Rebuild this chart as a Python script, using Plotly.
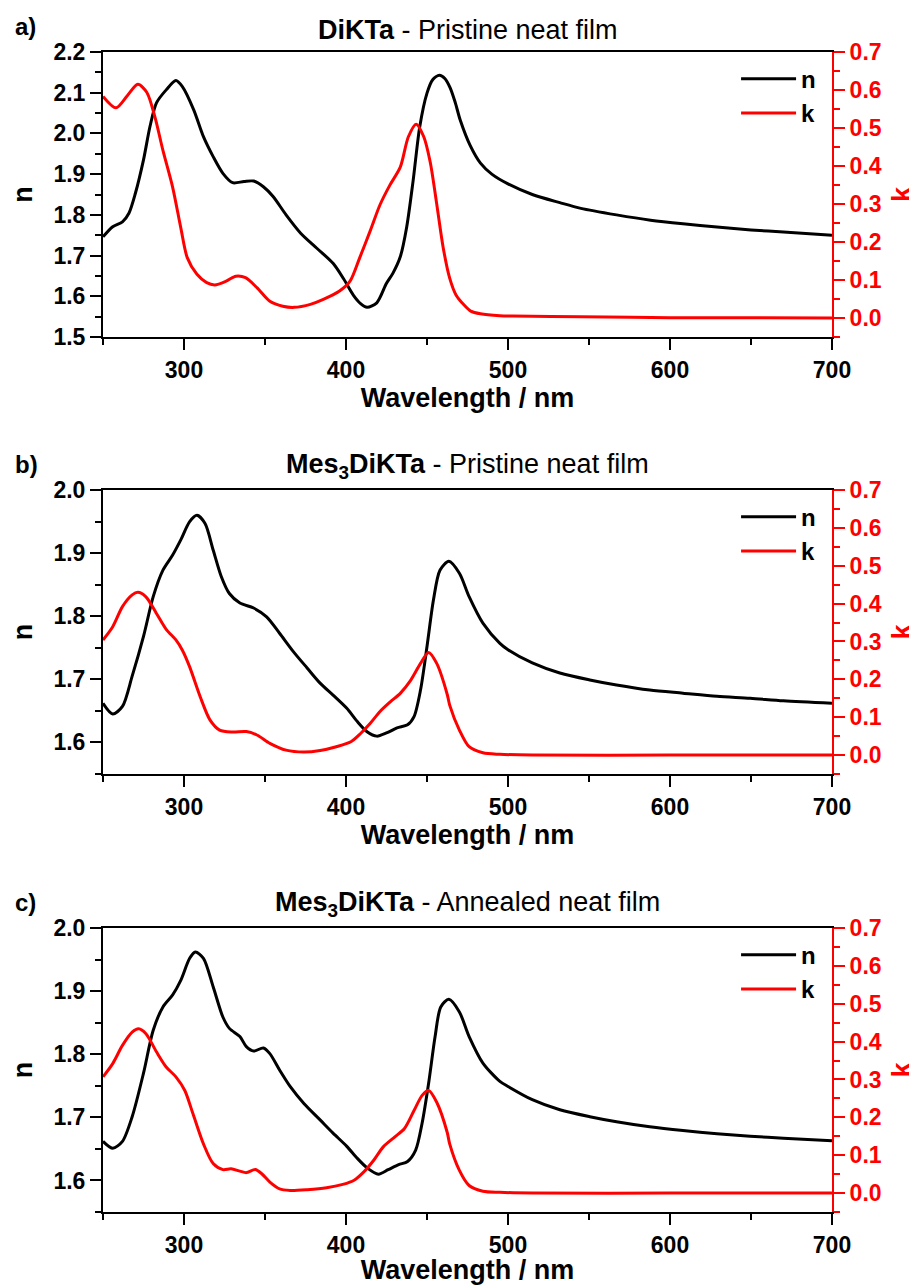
import plotly.graph_objects as go
from plotly.subplots import make_subplots

# a) DiKTa - pristine neat film
wl_a_n = [250, 256, 262, 266, 270, 275, 279, 283, 289, 295, 299, 306, 312, 318, 324, 330, 337, 343,
          349, 355, 363, 372, 382, 392, 398.5, 404.5, 409, 413, 419, 425, 429, 433.5, 437.5, 441.5,
          445.5, 450, 453.5, 457.7, 461, 464.3, 467.5, 470.5, 476.7, 483, 490, 500, 515, 532, 545, 567,
          588, 608, 629, 650, 670, 700]
n_a = [1.746, 1.771, 1.783, 1.804, 1.853, 1.935, 2.017, 2.075, 2.107, 2.130, 2.115, 2.058, 1.992, 1.943,
       1.902, 1.879, 1.882, 1.883, 1.869, 1.845, 1.800, 1.755, 1.718, 1.681, 1.643, 1.603, 1.582, 1.573,
       1.584, 1.632, 1.657, 1.697, 1.771, 1.886, 2.016, 2.099, 2.132, 2.143, 2.135, 2.112, 2.075, 2.033,
       1.970, 1.927, 1.900, 1.876, 1.850, 1.830, 1.816, 1.800, 1.787, 1.778, 1.770, 1.763, 1.758, 1.750]
wl_a_k = [250, 258, 265, 271.5, 277, 282, 287, 293, 298, 302, 308, 314, 319, 326, 332, 338,
          345, 353, 361, 368, 378, 386, 396, 402.5, 408.5, 415, 421, 427, 433.5, 438.5, 443.3, 448, 452,
          456, 460, 464, 468, 472.5, 477, 483, 495, 503, 545, 600, 700]
k_a = [0.583, 0.553, 0.585, 0.615, 0.594, 0.530, 0.441, 0.344, 0.238, 0.159, 0.115, 0.093,
       0.087, 0.097, 0.110, 0.106, 0.080, 0.044, 0.031, 0.028, 0.036, 0.049, 0.071, 0.097, 0.159, 0.230,
       0.298, 0.349, 0.397, 0.477, 0.510, 0.477, 0.410, 0.300, 0.185, 0.105, 0.060, 0.036, 0.018, 0.011,
       0.006, 0.005, 0.003, 0.001, 0.0]

# b) Mes3DiKTa - pristine neat film
wl_b_n = [250, 256, 262, 268, 275, 281, 287, 293, 298, 303.5, 308, 313, 318, 323, 328, 334.5, 343, 351,
          359, 367.5, 376, 384, 392, 400.5, 407, 413, 419, 425, 431.5, 438, 442, 446, 450, 454, 458,
          463.5, 470, 476, 484.5, 495, 500, 515, 532, 550.5, 567, 587.5, 608, 629, 649.5, 670, 700]
n_b = [1.662, 1.645, 1.657, 1.705, 1.768, 1.831, 1.873, 1.897, 1.921, 1.950, 1.960, 1.947, 1.905, 1.863,
       1.836, 1.821, 1.813, 1.799, 1.773, 1.744, 1.718, 1.694, 1.675, 1.654, 1.633, 1.617, 1.610, 1.615,
       1.623, 1.628, 1.641, 1.683, 1.752, 1.826, 1.873, 1.887, 1.868, 1.831, 1.789, 1.757, 1.747, 1.726,
       1.710, 1.699, 1.691, 1.683, 1.678, 1.673, 1.670, 1.666, 1.662]
wl_b_k = [250, 256, 262, 268, 271.5, 276.5, 283, 289, 295, 299, 303.5, 310, 316, 322, 330, 338.5, 345,
          353, 363, 374, 384, 394, 403, 409, 415, 421, 427.5, 433.5, 440, 446, 451, 456, 462.5, 464,
          470, 476, 484.5, 495, 515, 600, 700]
k_b = [0.304, 0.339, 0.392, 0.423, 0.430, 0.418, 0.374, 0.332, 0.304, 0.277, 0.233, 0.154, 0.093, 0.066,
       0.061, 0.062, 0.053, 0.031, 0.013, 0.008, 0.012, 0.022, 0.035, 0.057, 0.084, 0.115, 0.141, 0.163,
       0.198, 0.242, 0.271, 0.242, 0.160, 0.132, 0.066, 0.022, 0.006, 0.002, 0.0, 0.0, 0.0]

# c) Mes3DiKTa - annealed neat film
wl_c_n = [250, 256, 262, 268, 275, 281, 287, 293, 298, 303.5, 307, 312, 318, 324, 328, 334.5, 338.5,
          343, 349, 353, 359, 365.5, 374, 384, 392, 400.5, 407, 413, 420, 426, 432.5, 438, 443, 447,
          451, 455, 458.5, 463.5, 470, 476, 484.5, 495, 500, 515, 532, 550.5, 567, 587.5, 608, 629,
          649.5, 670, 700]
n_c = [1.662, 1.651, 1.662, 1.701, 1.770, 1.838, 1.875, 1.894, 1.917, 1.952, 1.962, 1.952, 1.907, 1.859,
       1.841, 1.828, 1.812, 1.805, 1.810, 1.801, 1.775, 1.749, 1.722, 1.696, 1.675, 1.654, 1.635, 1.620,
       1.610, 1.617, 1.625, 1.630, 1.648, 1.691, 1.754, 1.828, 1.875, 1.887, 1.867, 1.828, 1.786, 1.757,
       1.749, 1.728, 1.712, 1.701, 1.693, 1.685, 1.679, 1.674, 1.670, 1.667, 1.663]
wl_c_k = [250, 256, 262, 268, 272, 276.5, 283, 289, 295, 300.5, 305.5, 312, 318, 324, 329, 334.5, 338.5,
          344, 348, 353, 359, 365.5, 376, 388, 398, 405, 411, 417, 423, 430, 436, 442, 447, 451, 456,
          462.5, 464, 470, 476, 484.5, 495, 515, 600, 700]
k_c = [0.307, 0.342, 0.390, 0.425, 0.434, 0.421, 0.373, 0.333, 0.307, 0.271, 0.210, 0.130, 0.078, 0.062,
       0.064, 0.058, 0.054, 0.062, 0.051, 0.029, 0.011, 0.007, 0.009, 0.014, 0.023, 0.034, 0.056, 0.086,
       0.122, 0.148, 0.170, 0.218, 0.258, 0.271, 0.240, 0.160, 0.130, 0.060, 0.020, 0.005, 0.002, 0.0,
       0.0, 0.0]

titles = ["<b>DiKTa</b> - Pristine neat film",
          "<b>Mes<sub>3</sub>DiKTa</b> - Pristine neat film",
          "<b>Mes<sub>3</sub>DiKTa</b> - Annealed neat film"]
labels = ["a)", "b)", "c)"]
n_ranges = [[1.5, 2.2], [1.55, 2.0], [1.55, 2.0]]
k_range = [-0.05, 0.7]

FONT = "Arial, Liberation Sans, sans-serif"
# y domains of the three panels (paper coords)
domains = [[0.7543, 1.0], [0.3776, 0.6224], [0.0, 0.2448]]

fig = make_subplots(rows=3, cols=1, specs=[[{"secondary_y": True}]] * 3)

panels = [(wl_a_n, n_a, wl_a_k, k_a), (wl_b_n, n_b, wl_b_k, k_b), (wl_c_n, n_c, wl_c_k, k_c)]
for i, (xn, yn, xk, yk) in enumerate(panels):
    row = i + 1
    leg = "legend" if i == 0 else "legend%d" % row
    fig.add_trace(go.Scatter(x=xn, y=yn, name="n", mode="lines", legend=leg,
                             line=dict(color="black", width=3, shape="spline", smoothing=0.8)),
                  row=row, col=1, secondary_y=False)
    fig.add_trace(go.Scatter(x=xk, y=yk, name="k", mode="lines", legend=leg,
                             line=dict(color="red", width=3, shape="spline", smoothing=0.8)),
                  row=row, col=1, secondary_y=True)

    tick = dict(size=23, color="black", family=FONT, weight="bold")
    fig.update_xaxes(row=row, col=1, range=[250, 700], domain=[0, 1], tick0=300, dtick=100,
                     showline=True, linecolor="black", linewidth=2, mirror=True,
                     ticks="outside", ticklen=11, tickwidth=2, tickcolor="black",
                     minor=dict(ticks="outside", ticklen=6, tickwidth=2, tickcolor="black",
                                tick0=250, dtick=50),
                     showgrid=False, zeroline=False, tickfont=tick,
                     title=dict(text="Wavelength / nm", standoff=2,
                                font=dict(size=27, family=FONT, weight="bold", color="black")),
                     automargin=False)
    fig.update_yaxes(row=row, col=1, secondary_y=False, range=n_ranges[i], domain=domains[i],
                     tick0=1.5, dtick=0.1, tickformat=".1f",
                     showline=True, linecolor="black", linewidth=2,
                     ticks="outside", ticklen=11, tickwidth=2, tickcolor="black",
                     minor=dict(ticks="outside", ticklen=6, tickwidth=2, tickcolor="black",
                                tick0=1.5, dtick=0.05),
                     showgrid=False, zeroline=False, tickfont=tick,
                     title=dict(text="n", standoff=16,
                                font=dict(size=27, family=FONT, weight="bold", color="black")),
                     automargin=False)
    fig.update_yaxes(row=row, col=1, secondary_y=True, range=k_range, domain=domains[i],
                     tick0=0, dtick=0.1, tickformat=".1f",
                     showline=True, linecolor="red", linewidth=2,
                     ticks="outside", ticklen=11, tickwidth=2, tickcolor="red",
                     minor=dict(ticks="outside", ticklen=6, tickwidth=2, tickcolor="red",
                                tick0=0, dtick=0.05),
                     showgrid=False, zeroline=False,
                     tickfont=dict(size=23, color="red", family=FONT, weight="bold"),
                     title=dict(text="k", standoff=14,
                                font=dict(size=27, family=FONT, weight="bold", color="red")),
                     automargin=False)

    top = domains[i][1]
    fig.add_annotation(xref="paper", yref="paper", x=0.5, y=top, yanchor="bottom", yshift=5,
                       text=titles[i], showarrow=False,
                       font=dict(size=27, family=FONT, color="black"))
    fig.add_annotation(xref="paper", yref="paper", x=-0.124, y=top, xanchor="left",
                       yanchor="bottom", yshift=10, text="<b>%s</b>" % labels[i], showarrow=False,
                       font=dict(size=24, family=FONT, color="black"))

    fig.update_layout({leg: dict(x=0.985, y=top - 0.004, xanchor="right", yanchor="top",
                                 bgcolor="rgba(0,0,0,0)", itemwidth=55, tracegroupgap=0,
                                 font=dict(size=24, family=FONT, color="black", weight="bold"))})

# page body adds an 8px offset, so the figure is 8px smaller than the window
fig.update_layout(width=909, height=1277, plot_bgcolor="white", paper_bgcolor="white",
                  margin=dict(l=95, r=85, t=44, b=73), showlegend=True,
                  font=dict(family=FONT, color="black"))

fig.write_html("out.html")
